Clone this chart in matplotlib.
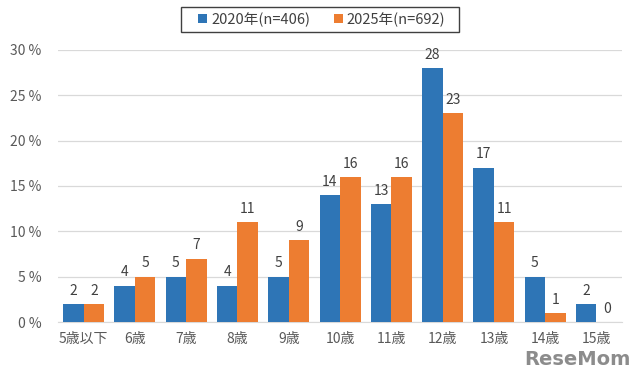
import matplotlib
matplotlib.use('Agg')
import matplotlib.pyplot as plt
from matplotlib.patches import Rectangle
import numpy as np

plt.rcParams['font.family'] = ['Noto Sans CJK JP', 'DejaVu Sans']

# Data
categories = ['5歳以下', '6歳', '7歳', '8歳', '9歳', '10歳', '11歳', '12歳', '13歳', '14歳', '15歳']
vals_2020 = [2, 4, 5, 4, 5, 14, 13, 28, 17, 5, 2]
vals_2025 = [2, 5, 7, 11, 9, 16, 16, 23, 11, 1, 0]
series_names = ['2020年(n=406)', '2025年(n=692)']

blue = '#2E75B6'
orange = '#ED7D31'
grey = '#595959'

fig = plt.figure(figsize=(6.4, 3.8), dpi=100)
ax = fig.add_axes([0.0906, 0.1526, 0.8814, 0.716])

x = np.arange(len(categories))
w = 0.40
b1 = ax.bar(x - w / 2, vals_2020, w, color=blue, label=series_names[0], zorder=3)
b2 = ax.bar(x + w / 2, vals_2025, w, color=orange, label=series_names[1], zorder=3)

for bars in (b1, b2):
    for r in bars:
        ax.text(r.get_x() + r.get_width() / 2, r.get_height() + 0.7, str(int(r.get_height())),
                ha='center', va='bottom', fontsize=10, color='#404040')

ax.set_xlim(-0.5, len(categories) - 0.5)
ax.set_ylim(0, 30)
ax.set_yticks(range(0, 31, 5))
ax.set_yticklabels([f'{v} %' for v in range(0, 31, 5)])
ax.set_xticks(x)
ax.set_xticklabels(categories)
ax.tick_params(axis='both', length=0, labelsize=10, colors=grey)
ax.tick_params(axis='x', pad=7)
ax.tick_params(axis='y', pad=12)
ax.grid(axis='y', color='#D9D9D9', linewidth=0.9, zorder=0)
for s in ['top', 'right', 'left']:
    ax.spines[s].set_visible(False)
ax.spines['bottom'].set_color('#D9D9D9')

# legend without its own frame, box drawn separately
leg = fig.legend(loc='center', bbox_to_anchor=(0.503, 0.949), ncol=2, fontsize=10.5,
                 frameon=False, handlelength=0.6, handleheight=0.6,
                 handletextpad=0.3, columnspacing=1.6)
for t in leg.get_texts():
    t.set_color('#404040')
fig.patches.append(Rectangle((181 / 640, 1 - 32 / 380), 278 / 640, 25 / 380,
                             transform=fig.transFigure, fill=False,
                             edgecolor='#404040', linewidth=1.0))

fig.text(0.985, 0.03, 'ReseMom', ha='right', va='bottom', fontsize=14, fontweight='bold',
         color='#8C8C8C', family='DejaVu Sans')

fig.savefig('out.png', dpi=100)
